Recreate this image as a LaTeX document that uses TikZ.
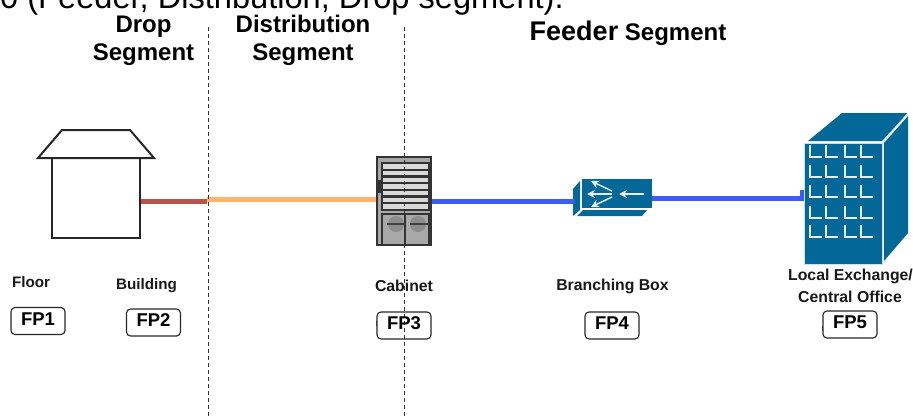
\documentclass[tikz,border=0pt]{standalone}
\usepackage{fontspec}
\setmainfont{Liberation Sans}
\usepackage{tikz}
\usetikzlibrary{arrows.meta, calc}
\definecolor{cableRed}{HTML}{B85450}
\definecolor{cableOrange}{HTML}{FFB570}
\definecolor{cableBlue}{HTML}{3D5CF5}
\definecolor{ciscoBlue}{HTML}{036897}
\definecolor{rackGrey}{HTML}{A8A8A8}
\tikzset{
  heading/.style={anchor=base, font=\fontsize{24}{24}\selectfont\bfseries, inner sep=0pt},
  place/.style={font=\fontsize{15.8}{15.8}\selectfont\bfseries, inner sep=0pt, text=black!90},
  fpbox/.style={draw=black!85, line width=1.1pt, rounded corners=4pt, minimum width=54pt, minimum height=27pt, inner sep=0pt, text height=13pt, text depth=5pt, font=\fontsize{18.5}{18.5}\selectfont\bfseries},
  divider/.style={black!80, line width=1pt, dash pattern=on 3.5pt off 3.5pt},
  cable/.style={line width=5pt},
  housepart/.style={draw=black!85, line width=2pt, fill=white, inner sep=0pt},
  slat/.style={draw=black!80, line width=1.3pt, fill=white!85!black},
  glyph/.style={white!90!ciscoBlue, line width=1.1pt},
  arrowglyph/.style={white!90!ciscoBlue, line width=1.4pt, -{Stealth[length=8pt,width=8pt]}}
}
\begin{document}
\begin{tikzpicture}[x=1pt, y=-1pt, line cap=butt]
  \useasboundingbox (0, 0) rectangle (913, 416);
  \clip (0, 0) rectangle (913, 416);

  % sentence cut by the top edge
  \node[anchor=base west, inner sep=0pt, font=\fontsize{32.6}{32.6}\selectfont] (caption) at (0, 8) {0 (Feeder, Distribution, Drop segment).};

  % segment headings
  \node[heading] (dropa) at (143.5, 32) {Drop};
  \node[heading] (dropb) at (143.5, 60) {Segment};
  \node[heading] (dista) at (303, 32) {Distribution};
  \node[heading] (distb) at (303, 60) {Segment};
  \node[heading] (feeder) at (628, 40) {{\fontsize{27}{27}\selectfont Feeder} Segment};

  % house
  \node[housepart, minimum width=88pt, minimum height=80pt] (house) at (96, 198) {};
  \draw[housepart] (38, 158) -- (62, 130) -- (130, 130) -- (154, 158) -- cycle;

  % cabinet
  \node[draw=black!80, fill=rackGrey, line width=1.4pt, minimum width=54pt, minimum height=88pt, inner sep=0pt] (cabinet) at (404, 201) {};
  \fill[black!80] (377.5, 180) rectangle (381, 193);
  \draw[black!80, line width=1.2pt, fill=rackGrey] (382, 163) rectangle (429, 210);
  \foreach \slaty in {163.5, 170.2, 176.9, 183.6, 190.3, 197, 203.7}
    \draw[slat] (382.5, \slaty) rectangle (428.5, \slaty + 5.7);
  \draw[black!80, line width=1.2pt] (382, 214) rectangle (405, 245);
  \draw[black!80, line width=1.2pt] (405, 214) rectangle (429, 245);
  \fill[black!45] (396, 224) circle (8);
  \fill[black!45] (418, 224) circle (8);
  \draw[black!75, line width=1.6pt] (387, 224) -- (404, 224);
  \draw[black!75, line width=1.6pt] (410, 224) -- (428, 224);

  % branching box
  \node[fill=ciscoBlue, minimum width=70pt, minimum height=29pt, inner sep=0pt] (branch) at (617, 193.5) {};
  \fill[ciscoBlue] (573, 189) -- (580, 181) -- (580, 210) -- (573, 216) -- cycle;
  \fill[ciscoBlue] (577, 216) -- (583, 210) -- (647, 210) -- (642, 216) -- cycle;
  \draw[arrowglyph] (644, 194) -- (619, 194);
  \draw[arrowglyph] (612, 191) -- (591, 181);
  \draw[arrowglyph] (612, 194) -- (587, 194);
  \draw[arrowglyph] (612, 197) -- (591, 207);

  % local exchange
  \node[fill=ciscoBlue, draw=white!80!ciscoBlue, line width=0.6pt, minimum width=78pt, minimum height=121pt, inner sep=0pt] (office) at (843, 203.5) {};
  \fill[ciscoBlue] (808, 141) -- (842, 113) -- (908, 113) -- (882, 141) -- cycle;
  \fill[ciscoBlue] (884, 143) -- (908, 116) -- (908, 233) -- (884, 261) -- cycle;
  \draw[white!85!ciscoBlue, line width=1pt] (882, 143) -- (908, 113);
  \foreach \wx in {810, 826, 845, 861}
    \foreach \wy in {157, 177, 197, 218, 237}
      \draw[glyph] (\wx, \wy - 12) -- (\wx, \wy) -- (\wx + 12, \wy);

  % cables
  \coordinate (dropend) at (207, 201);
  \coordinate (diststart) at (207, 199);
  \draw[cable, cableRed] (house.east |- dropend) -- (dropend);
  \draw[cable, cableOrange] (diststart) -- (cabinet.west |- diststart);
  \draw[cable, cableBlue] (cabinet.east |- 0, 201.5) -- (575, 201.5);
  \draw[cable, cableBlue] (branch.east |- 0, 198) -- (office.west |- 0, 198);
  \fill[cableBlue] (800, 190) rectangle (804, 200);

  % dividers
  \coordinate (diva) at (208, 27);
  \coordinate (divb) at (404, 27);
  \draw[divider] (diva) -- (208, 416);
  \draw[divider] (divb) -- (404, 416);

  % place labels and boxes
  \node[place, font=\fontsize{15.2}{15.2}\selectfont\bfseries] (floor) at (31, 282) {Floor};
  \node[place, font=\fontsize{15.2}{15.2}\selectfont\bfseries] (building) at (146.5, 286) {Building};
  \node[place] (cablabel) at (404, 286) {Cabinet};
  \node[place] (branchlabel) at (612.5, 286) {Branching Box};
  \node[place] (officea) at (850.5, 276) {Local Exchange/};
  \node[place] (officeb) at (850, 297) {Central Office};
  \node[fpbox] (fpa) at (38, 321) {FP1};
  \node[fpbox] (fpb) at (153.5, 322.5) {FP2};
  \draw[cableBlue, line width=1pt] (376, 321) -- (376, 326);
  \node[fpbox] (fpc) at (404, 325.5) {FP3};
  \node[fpbox] (fpd) at (612, 325.5) {FP4};
  \draw[cableBlue, line width=1pt] (822, 326) -- (822, 331);
  \node[fpbox] (fpe) at (850, 324.5) {FP5};
\end{tikzpicture}
\end{document}
